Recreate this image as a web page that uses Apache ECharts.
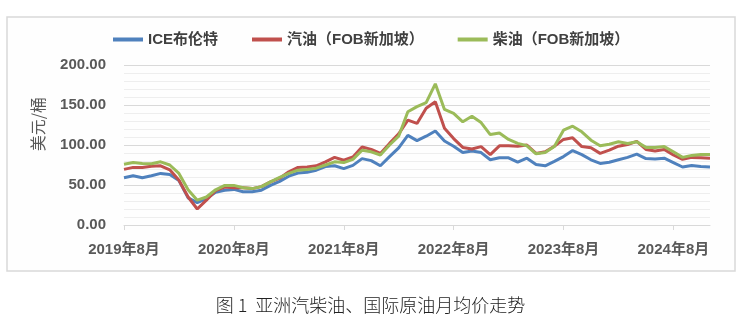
<!DOCTYPE html>
<html>
<head>
<meta charset="utf-8">
<script src="https://cdn.jsdelivr.net/npm/echarts@6/dist/echarts.min.js"></script>
<style>
html,body{margin:0;padding:0;background:#fff;}
#c{width:741px;height:331px;}
</style>
</head>
<body>
<div id="c"></div>
<script>
var categories = [
"2019年8月","2019年9月","2019年10月","2019年11月","2019年12月",
"2020年1月","2020年2月","2020年3月","2020年4月","2020年5月","2020年6月","2020年7月","2020年8月","2020年9月","2020年10月","2020年11月","2020年12月",
"2021年1月","2021年2月","2021年3月","2021年4月","2021年5月","2021年6月","2021年7月","2021年8月","2021年9月","2021年10月","2021年11月","2021年12月",
"2022年1月","2022年2月","2022年3月","2022年4月","2022年5月","2022年6月","2022年7月","2022年8月","2022年9月","2022年10月","2022年11月","2022年12月",
"2023年1月","2023年2月","2023年3月","2023年4月","2023年5月","2023年6月","2023年7月","2023年8月","2023年9月","2023年10月","2023年11月","2023年12月",
"2024年1月","2024年2月","2024年3月","2024年4月","2024年5月","2024年6月","2024年7月","2024年8月","2024年9月","2024年10月","2024年11月","2024年12月"
];
var brent = [59.0,61.5,59.0,61.5,64.5,63.0,55.5,34,28,33,41,43.5,44.5,41.5,41.5,43.5,49.5,54.5,61,65,66,68.5,73,74,70.5,74.5,83,80.5,74,85.5,96.5,112,105.5,111,117.5,105,98.5,90.5,92.5,90.5,81.5,84,84,78.5,83.5,75.5,74,79.5,85.5,93,88,81.5,77,78.5,81.5,84.5,88.5,83,82.5,83.5,78,72.5,74.5,73,72.5];
var gasoline = [69.5,72,72,73.5,74,69,56,35,20,31,43,47.5,46.5,46.5,45.5,48,54,58.5,66.5,72,72.5,74,79,84.5,81,85,97.5,94.5,89.5,102,114,131,127,146,154,121,108,97,95,98,88,99,99,98.5,100,89.5,91.5,98.5,107,109,98,96.5,89.5,93.5,98.5,100.5,104.5,94.5,92.5,94.5,87.5,82,84.5,84,83.5];
var gasoil = [76,78,77,76.5,79,75,64.5,44,31,35,44,49.5,49.5,46.5,45.5,48,54,59.5,64.5,68.5,69.5,71,75,79,78,82,93.5,91.5,87.5,100,111,141.5,148,153,176.5,144.5,139.5,129,136,128,113,115,107,102,99,89,90.5,98,118.5,123.5,116.5,106,99,101,104,102,104,97,97,98,91.5,84.5,87,88,88];
var seriesNames = ["ICE布伦特","汽油（FOB新加坡）","柴油（FOB新加坡）"];
var colors = ["#4F81BD","#C0504D","#9BBB59"];
var yAxisName = "美元/桶";
var caption = "图 1  亚洲汽柴油、国际原油月均价走势";

var chart = echarts.init(document.getElementById('c'), null, {renderer:'canvas'});
function mk(name, data, color){
  return {name:name, type:'line', data:data, symbol:'none', smooth:false,
    lineStyle:{width:3, color:color}, itemStyle:{color:color}, z:3};
}
chart.setOption({
  animation:false,
  backgroundColor:'#ffffff',
  graphic:[
    {type:'rect', z:-10, shape:{x:7,y:17,width:728,height:254},
     style:{fill:'#fefefe', stroke:'#d9d9d9', lineWidth:1.5}},
    {type:'text', left:30, top:97, rotation:Math.PI/2,
     style:{text:yAxisName, fill:'#595959', fontSize:16, fontFamily:'Noto Sans CJK SC'}},
    {type:'text', left:'center', top:296,
     style:{text:caption, fill:'#222', fontSize:18, fontFamily:'Noto Sans CJK SC', fontWeight:300}}
  ],
  legend:{
    left:108, top:27, itemWidth:30, itemHeight:4, itemGap:34, icon:'rect',
    textStyle:{fontSize:15, fontWeight:'bold', color:'#404040', fontFamily:'Liberation Sans, Noto Sans CJK SC'},
    data:seriesNames
  },
  grid:{left:124, right:31, top:65, bottom:106, containLabel:false},
  xAxis:{
    type:'category', data:categories, boundaryGap:false,
    axisLine:{lineStyle:{color:'#d9d9d9', width:1}},
    axisTick:{show:true, interval:11, length:5, lineStyle:{color:'#d9d9d9'}},
    axisLabel:{interval:11, margin:17, fontSize:15, fontWeight:'bold', color:'#595959', fontFamily:'Liberation Sans, Noto Sans CJK SC'},
    splitLine:{show:false}
  },
  yAxis:{
    type:'value', min:0, max:200, interval:50,
    axisLine:{show:false}, axisTick:{show:false},
    axisLabel:{margin:18, fontSize:15, fontWeight:'bold', color:'#595959', fontFamily:'Liberation Sans',
      formatter:function(v){return v.toFixed(2);}},
    splitLine:{lineStyle:{color:'#d9d9d9', width:1}},
    minorTick:{show:false, splitNumber:5},
    minorSplitLine:{show:true, lineStyle:{color:'#eeeeee', width:1}}
  },
  series:[mk(seriesNames[0], brent, colors[0]), mk(seriesNames[1], gasoline, colors[1]), mk(seriesNames[2], gasoil, colors[2])]
});
</script>
</body>
</html>
